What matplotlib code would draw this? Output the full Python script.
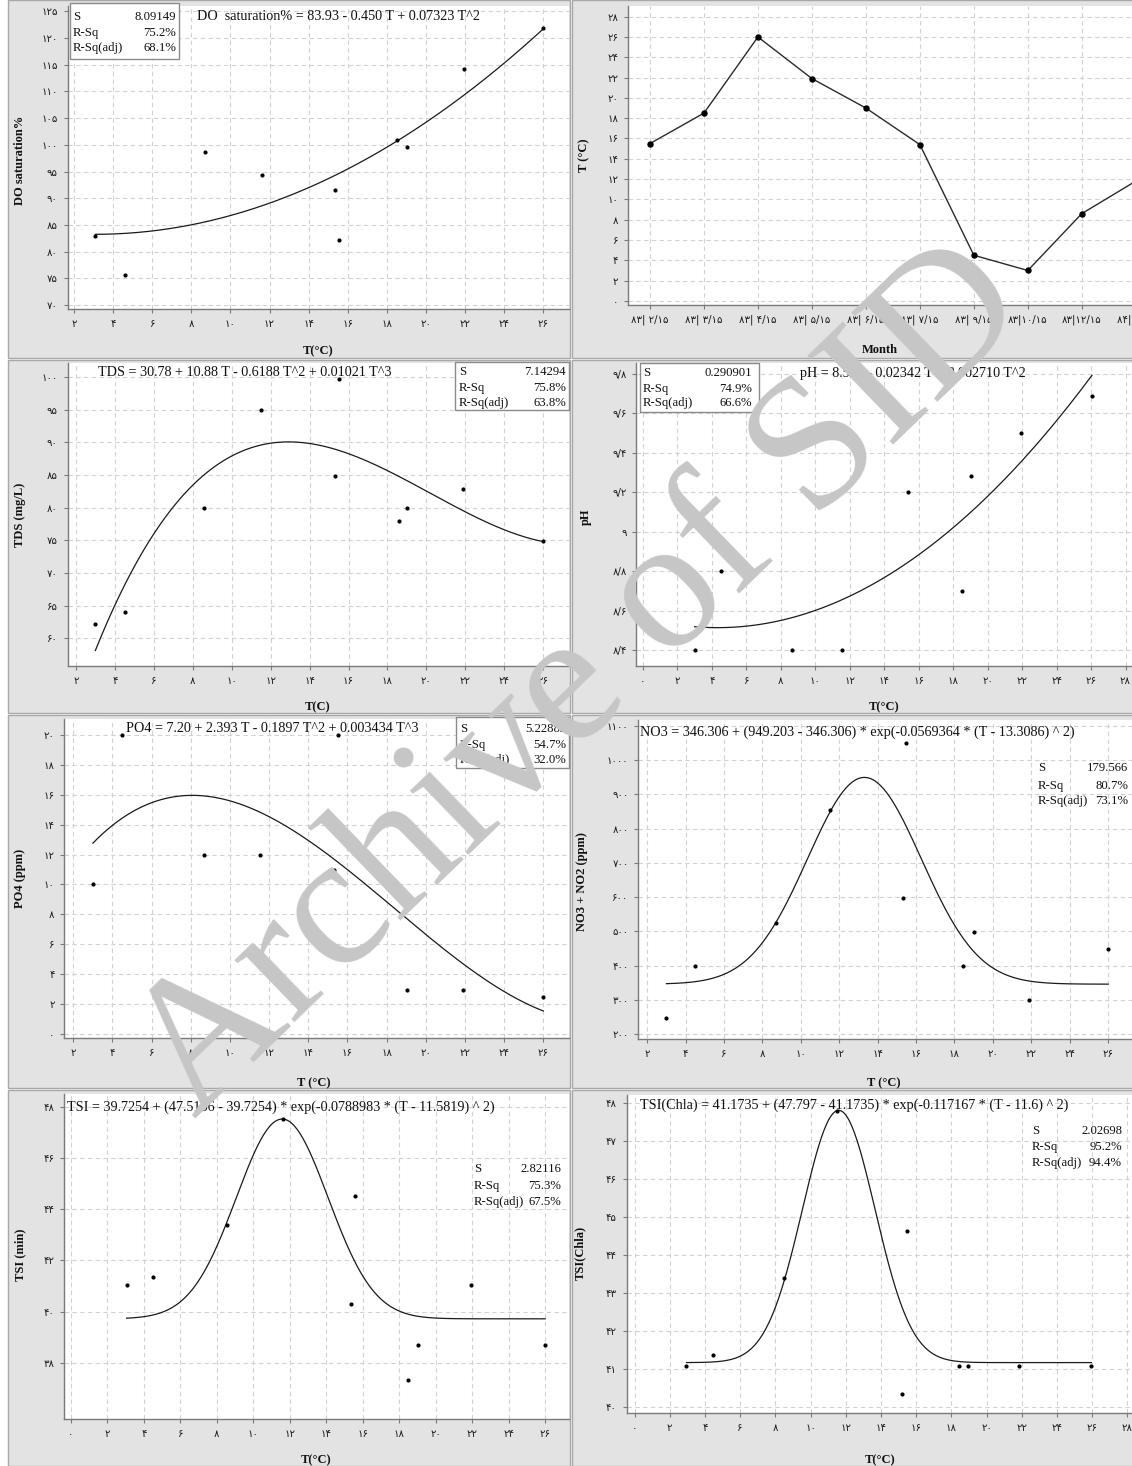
import numpy as np
import matplotlib
matplotlib.use("Agg")
import matplotlib.pyplot as plt
from matplotlib.patches import Rectangle

# ---------------- data ----------------
months = ['۸۳| ۲/۱۵', '۸۳| ۳/۱۵', '۸۳| ۴/۱۵', '۸۳| ۵/۱۵', '۸۳| ۶/۱۵',
          '۸۳| ۷/۱۵', '۸۳| ۹/۱۵', '۸۳|۱۰/۱۵', '۸۳|۱۲/۱۵', '۸۴| ۱/۱۵']
temp_month = [15.5, 18.5, 26.0, 21.9, 19.0, 15.4, 4.5, 3.0, 8.6, 11.8]

do_T = [3.1, 4.6, 8.7, 11.6, 15.35, 15.55, 18.5, 19.05, 21.95, 26.0]
do_sat = [83.0, 75.7, 98.6, 94.4, 91.5, 82.2, 100.9, 99.6, 114.2, 121.9]
do_coef = [83.93, -0.450, 0.07323]

tds_T = [3.0, 4.5, 8.6, 11.5, 15.3, 15.5, 18.6, 19.0, 21.9, 26.0]
tds = [62.2, 64.1, 79.9, 94.9, 84.9, 99.7, 78.0, 79.9, 82.9, 74.9]
tds_coef = [30.78, 10.88, -0.6188, 0.01021]

ph_T = [3.0, 4.5, 8.65, 11.55, 15.35, 18.5, 19.05, 21.95, 26.05]
ph = [8.40, 8.80, 8.40, 8.40, 9.20, 8.70, 9.28, 9.50, 9.69]
ph_coef = [8.564, -0.02342, 0.002710]

po4_T = [3.0, 4.5, 8.65, 11.55, 15.3, 15.5, 18.5, 19.05, 21.9, 26.0]
po4 = [10.0, 20.0, 12.0, 11.95, 11.0, 20.0, 10.0, 2.95, 2.95, 2.45]
po4_coef = [7.20, 2.393, -0.1897, 0.003434]

no3_T = [3.0, 4.5, 8.7, 11.5, 15.3, 15.45, 18.45, 19.0, 21.9, 26.0]
no3 = [249, 399, 526, 855, 598, 1050, 400, 499, 300, 448]
no3_fit = [346.306, 949.203, 0.0569364, 13.3086]

tsi_T = [3.05, 4.5, 8.55, 11.6, 15.35, 15.55, 18.5, 19.05, 21.95, 26.0]
tsi = [41.05, 41.34, 43.4, 47.5, 40.3, 44.5, 37.35, 38.7, 41.05, 38.7]
tsi_fit = [39.7254, 47.5136, 0.0788983, 11.5819]

chla_T = [2.95, 4.45, 8.5, 11.5, 15.2, 15.5, 18.45, 18.95, 21.85, 25.95]
chla = [41.09, 41.38, 43.4, 47.77, 40.35, 44.64, 41.09, 41.09, 41.09, 41.09]
chla_fit = [41.1735, 47.797, 0.117167, 11.6]

stats_do = ['8.09149', '75.2%', '68.1%']
stats_tds = ['7.14294', '75.8%', '63.8%']
stats_ph = ['0.290901', '74.9%', '66.6%']
stats_po4 = ['5.22882', '54.7%', '32.0%']
stats_no3 = ['179.566', '80.7%', '73.1%']
stats_tsi = ['2.82116', '75.3%', '67.5%']
stats_chla = ['2.02698', '95.2%', '94.4%']

eq_do = 'DO  saturation% = 83.93 - 0.450 T + 0.07323 T^2'
eq_tds = 'TDS = 30.78 + 10.88 T - 0.6188 T^2 + 0.01021 T^3'
eq_ph = 'pH = 8.564 - 0.02342 T + 0.002710 T^2'
eq_po4 = 'PO4 = 7.20 + 2.393 T - 0.1897 T^2 + 0.003434 T^3'
eq_no3 = 'NO3 = 346.306 + (949.203 - 346.306) * exp(-0.0569364 * (T - 13.3086) ^ 2)'
eq_tsi = 'TSI = 39.7254 + (47.5136 - 39.7254) * exp(-0.0788983 * (T - 11.5819) ^ 2)'
eq_chla = 'TSI(Chla) = 41.1735 + (47.797 - 41.1735) * exp(-0.117167 * (T - 11.6) ^ 2)'

# ---------------- figure ----------------
W, H = 1132, 1466
fig = plt.figure(figsize=(W / 100, H / 100), dpi=100, facecolor='white')
SERIF = ['Liberation Serif', 'DejaVu Serif']
TICKF = ['DejaVu Sans']
FA = str.maketrans('0123456789.', '۰۱۲۳۴۵۶۷۸۹/')
GRAYBG = '#e3e3e3'


def fa(v):
    if abs(v - round(v)) < 1e-9:
        s = str(int(round(v)))
    else:
        s = ('%.1f' % v)
    return s.translate(FA)


def fx(x):
    return x / W


def fy(y):
    return 1 - y / H


def ftext(x, y, s, **kw):
    return fig.text(fx(x), fy(y), s, **kw)


def panel_bg(l, t, r, b):
    fig.patches.append(Rectangle((fx(l), fy(b)), (r - l) / W, (b - t) / H,
                                 transform=fig.transFigure, facecolor=GRAYBG,
                                 edgecolor='#a8a8a8', lw=1.0, zorder=-5))


def add_ax(l, t, r, b):
    return fig.add_axes([fx(l), fy(b), (r - l) / W, (b - t) / H])


def style(ax, xlim, ylim, xt, yt, xlabels=None):
    ax.set_facecolor('white')
    ax.set_xlim(xlim)
    ax.set_ylim(ylim)
    ax.set_xticks(xt)
    ax.set_xticklabels(xlabels if xlabels is not None else [fa(v) for v in xt])
    ax.set_yticks(yt)
    ax.set_yticklabels([fa(v) for v in yt])
    ax.grid(True, linestyle=(0, (4, 3)), color='#d2d2d2', lw=0.8)
    ax.set_axisbelow(True)
    for s in ['top', 'right']:
        ax.spines[s].set_visible(False)
    for s in ['left', 'bottom']:
        ax.spines[s].set_color('#7a7a7a')
        ax.spines[s].set_linewidth(1.0)
    ax.tick_params(length=3, color='#7a7a7a', labelsize=7.3, pad=4,
                   labelcolor='#1a1a1a')
    for lab in ax.get_xticklabels() + ax.get_yticklabels():
        lab.set_family(TICKF)


def stats(lx, rx, ys, vals, box=None):
    if box is not None:
        l, t, r, b = box
        fig.patches.append(Rectangle((fx(l), fy(b)), (r - l) / W, (b - t) / H,
                                     transform=fig.transFigure, facecolor='white',
                                     edgecolor='#8a8a8a', lw=1.0, zorder=2))
    for lab, v, y in zip(['S', 'R-Sq', 'R-Sq(adj)'], vals, ys):
        ftext(lx, y, lab, ha='left', va='center', fontsize=9.2, family=SERIF,
              color='#111111', zorder=3)
        ftext(rx, y, v, ha='right', va='center', fontsize=9.2, family=SERIF,
              color='#111111', zorder=3)


def xlab(x, y, s):
    ftext(x, y, s, ha='center', va='center', fontsize=9, family=SERIF,
          fontweight='bold', color='#111111')


def ylab(x, y, s):
    ftext(x, y, s, ha='center', va='center', fontsize=9, family=SERIF,
          fontweight='bold', rotation=90, color='#111111')


def eqtext(x, y, s):
    ftext(x, y, s, ha='left', va='center', fontsize=10.2, family=SERIF,
          color='#111111', zorder=3)


def poly(coef, t):
    return sum(c * t ** i for i, c in enumerate(coef))


def gauss(p, t):
    return p[0] + (p[1] - p[0]) * np.exp(-p[2] * (t - p[3]) ** 2)


def scatter_fit(ax, xs, ys, fitfun):
    t = np.linspace(min(xs), max(xs), 300)
    ax.plot(t, fitfun(t), color='#1a1a1a', lw=0.9, zorder=3)
    ax.plot(xs, ys, linestyle='none', marker='o', ms=2.0, color='black', zorder=4)


# panel backgrounds
rows = [(0, 358), (360, 713), (715, 1088), (1090, 1466)]
for t, b in rows:
    panel_bg(8, t, 570, b)
    panel_bg(572, t, 1160, b)

even2 = list(range(2, 27, 2))

# ---- P1: DO saturation ----
ax1 = add_ax(67.5, 6, 569, 309)
style(ax1, (1.67, 27.31), (69.25, 126), even2, list(range(70, 126, 5)))
scatter_fit(ax1, do_T, do_sat, lambda t: poly(do_coef, t))
stats(73, 176, [17, 33, 48], stats_do, box=(70, 3, 179, 59))
eqtext(197, 17, eq_do)
xlab(318, 351, 'T(°C)')
ylab(20, 160, 'DO saturation%')

# ---- P2: temperature by month ----
ax2 = add_ax(628, 6, 1200, 305)
xpos = np.arange(1, len(months) + 1)
style(ax2, (0.593, 11.19), (-0.4, 29.05), list(xpos), list(range(0, 29, 2)),
      xlabels=months)
ax2.plot(xpos, temp_month, color='#2a2a2a', lw=1.0, marker='o', ms=3.6,
         mfc='black', mec='black', zorder=4)
xlab(880, 350, 'Month')
ylab(584, 155, 'T (°C)')

# ---- P3: TDS ----
ax3 = add_ax(67.5, 362.7, 569, 666)
style(ax3, (1.57, 27.32), (55.76, 102.2), even2, list(range(60, 101, 5)))
scatter_fit(ax3, tds_T, tds, lambda t: poly(tds_coef, t))
stats(459, 566, [372, 388, 403], stats_tds, box=(455, 362, 569, 410))
eqtext(97.5, 373, eq_tds)
xlab(318, 707, 'T(C)')
ylab(20, 515, 'TDS (mg/L)')

# ---- P4: pH ----
ax4 = add_ax(636.4, 362.7, 1150, 666)
style(ax4, (-0.38, 29.42), (8.319, 9.857), list(range(0, 29, 2)),
      [8.4, 8.6, 8.8, 9.0, 9.2, 9.4, 9.6, 9.8])
scatter_fit(ax4, ph_T, ph, lambda t: poly(ph_coef, t))
stats(643, 752, [373, 389, 403], stats_ph, box=(640, 363, 759, 412))
eqtext(800, 373, eq_ph)
xlab(884, 707, 'T(°C)')
ylab(586, 517, 'pH')

# ---- P5: PO4 ----
ax5 = add_ax(64.3, 719, 569, 1038)
style(ax5, (1.54, 27.31), (-0.27, 21.07), even2, list(range(0, 21, 2)))
scatter_fit(ax5, po4_T, po4, lambda t: poly(po4_coef, t))
stats(460, 566, [729, 745, 760], stats_po4, box=(455.6, 717, 569, 768))
eqtext(126, 728, eq_po4)
xlab(314, 1083, 'T (°C)')
ylab(20, 878, 'PO4 (ppm)')

# ---- P6: NO3 + NO2 ----
ax6 = add_ax(638.2, 720, 1150, 1039)
style(ax6, (1.53, 28.18), (186.4, 1116.6), even2, list(range(200, 1101, 100)))
scatter_fit(ax6, no3_T, no3, lambda t: gauss(no3_fit, t))
stats(1038, 1128, [768, 786, 801], stats_no3)
eqtext(640, 732, eq_no3)
xlab(884, 1083, 'T (°C)')
ylab(582, 882, 'NO3 + NO2 (ppm)')

# ---- P7: TSI (min) ----
ax7 = add_ax(63.9, 1094, 569, 1419)
style(ax7, (-0.39, 27.31), (35.82, 48.49), list(range(0, 27, 2)),
      list(range(38, 49, 2)))
scatter_fit(ax7, tsi_T, tsi, lambda t: gauss(tsi_fit, t))
stats(474, 561, [1169, 1186, 1202], stats_tsi)
eqtext(67, 1107, eq_tsi)
xlab(316, 1460, 'T(°C)')
ylab(20, 1255, 'TSI (min)')

# ---- P8: TSI (Chla) ----
ax8 = add_ax(626.6, 1095, 1150, 1413)
style(ax8, (-0.45, 29.28), (39.85, 48.2), list(range(0, 29, 2)),
      list(range(40, 49, 1)))
scatter_fit(ax8, chla_T, chla, lambda t: gauss(chla_fit, t))
stats(1032, 1122, [1131, 1147, 1163], stats_chla)
eqtext(640, 1105, eq_chla)
xlab(880, 1460, 'T(°C)')
ylab(580, 1253, 'TSI(Chla)')

# ---- watermark ----
ftext(582, 682, 'Archive of SID', ha='center', va='center', rotation=44,
      fontsize=136, family=SERIF, color='#c6c6c6', zorder=20)

fig.savefig('out.png', dpi=100, facecolor='white')
